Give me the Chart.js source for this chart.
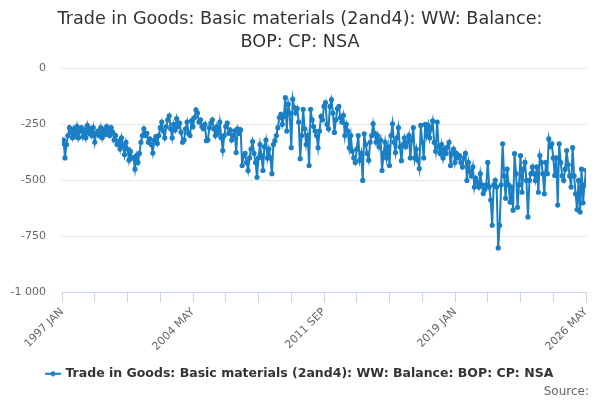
<!DOCTYPE html>
<html>
<head>
<meta charset="utf-8">
<script src="https://cdn.jsdelivr.net/npm/chart.js@4/dist/chart.umd.min.js"></script>
<style>
  body { margin: 0; background: #fff; }
  #wrap { width: 600px; height: 400px; position: relative; }
  #source {
    position: absolute; right: 11px; top: 384px;
    font: 12px "DejaVu Sans", sans-serif; color: #666;
  }
</style>
</head>
<body>
<div id="wrap">
  <canvas id="tradeChart" width="600" height="400"></canvas>
  <div id="source">Source:</div>
</div>
<script>
// Serie mensual, 1997 ENE a 2026 MAY
const startYear = 1997;
const monthNames = ["JAN", "FEB", "MAR", "APR", "MAY", "JUN", "JUL", "AUG", "SEP", "OCT", "NOV", "DEC"];
const seriesName = "Trade in Goods: Basic materials (2and4): WW: Balance: BOP: CP: NSA";

// Valores (millones), por año
const balance = [
  // 1997
  -335, -320, -400, -340, -300, -265, -285, -310, -270, -300, -260, -310,
  // 1998
  -280, -265, -305, -275, -310, -255, -290, -270, -300, -265, -330, -290,
  // 1999
  -280, -300, -265, -310, -275, -295, -260, -280, -300, -265, -285, -320,
  // 2000
  -300, -340, -325, -360, -310, -345, -385, -330, -360, -410, -370, -400,
  // 2001
  -400, -450, -390, -420, -380, -330, -300, -270, -300, -290, -330, -315,
  // 2002
  -340, -378, -320, -305, -335, -300, -265, -240, -280, -310, -260, -230,
  // 2003
  -212, -270, -310, -250, -275, -225, -260, -245, -285, -330, -320, -270,
  // 2004
  -240, -290, -300, -235, -260, -220, -185, -200, -240, -230, -260, -270,
  // 2005
  -250, -323, -320, -265, -245, -230, -270, -300, -260, -290, -240, -310,
  // 2006
  -367, -300, -260, -245, -290, -275, -320, -300, -280, -376, -270, -290,
  // 2007
  -275, -434, -390, -380, -420, -456, -400, -360, -327, -380, -420, -486,
  // 2008
  -400, -340, -390, -456, -350, -320, -400, -360, -400, -470, -340, -323,
  // 2009
  -300, -265, -220, -205, -250, -215, -131, -280, -160, -200, -354, -138,
  // 2010
  -175, -200, -180, -240, -403, -300, -183, -270, -340, -300, -434, -183,
  // 2011
  -230, -260, -280, -300, -354, -280, -215, -230, -170, -153, -250, -270,
  // 2012
  -170, -140, -200, -286, -230, -180, -170, -220, -240, -210, -300, -250,
  // 2013
  -280, -354, -300, -370, -400, -420, -360, -300, -410, -380, -500, -292,
  // 2014
  -340, -380, -410, -330, -300, -248, -290, -330, -300, -350, -320, -456,
  // 2015
  -380, -330, -400, -350, -434, -300, -248, -330, -376, -310, -265, -350,
  // 2016
  -412, -340, -310, -350, -330, -300, -400, -320, -265, -400, -360, -410,
  // 2017
  -447, -255, -330, -400, -250, -300, -255, -310, -270, -235, -330, -370,
  // 2018
  -240, -350, -380, -340, -400, -360, -380, -350, -330, -434, -380, -360,
  // 2019
  -420, -380, -400, -390, -420, -440, -400, -380, -500, -420, -460, -480,
  // 2020
  -440, -530, -490, -510, -530, -470, -520, -558, -540, -520, -420, -530,
  // 2021
  -588, -700, -520, -500, -530, -801, -700, -520, -337, -480, -580, -450,
  // 2022
  -520, -597, -530, -633, -381, -470, -620, -520, -390, -553, -450, -420,
  // 2023
  -500, -663, -500, -470, -440, -470, -500, -440, -553, -389, -420, -470,
  // 2024
  -560, -420, -470, -315, -350, -337, -400, -478, -400, -610, -337, -420,
  // 2025
  -480, -500, -450, -367, -430, -480, -530, -354, -480, -560, -630, -500,
  // 2026
  -641, -450, -600, -520, -455
];

// Etiquetas de meses
const labels = balance.map((v, i) => (startYear + Math.floor(i / 12)) + " " + monthNames[i % 12]);

const yTicks = [0, -250, -500, -750, -1000];
const lineColor = "#1a7fc4";

// Símbolo de la leyenda: línea con punto
const legendIcon = document.createElement("canvas");
legendIcon.width = 16;
legendIcon.height = 8;
const ic = legendIcon.getContext("2d");
ic.strokeStyle = lineColor;
ic.lineWidth = 2;
ic.beginPath(); ic.moveTo(0, 4); ic.lineTo(16, 4); ic.stroke();
ic.fillStyle = lineColor;
ic.beginPath(); ic.arc(8, 4, 2.5, 0, Math.PI * 2); ic.fill();

const ctx = document.getElementById("tradeChart").getContext("2d");
const tradeChart = new Chart(ctx, {
  type: "line",
  data: {
    datasets: [{
      label: seriesName,
      data: balance.map((v, i) => ({ x: i, y: v })),
      borderColor: lineColor,
      backgroundColor: lineColor,
      borderWidth: 2,
      pointRadius: 1.6,
      pointHoverRadius: 3,
      pointStyle: "circle",
      tension: 0,
      yAxisID: "y"
    }]
  },
  options: {
    responsive: false,
    animation: false,
    layout: { padding: { top: 6, right: 0, bottom: 10, left: 0 } },
    plugins: {
      title: {
        display: true,
        text: ["Trade in Goods: Basic materials (2and4): WW: Balance:", "BOP: CP: NSA"],
        color: "#333",
        font: { family: "DejaVu Sans", size: 17.6, weight: "normal", lineHeight: 1.3 },
        padding: { top: 2, bottom: 14.5 }
      },
      legend: {
        position: "bottom",
        labels: {
          color: "#333",
          font: { family: "DejaVu Sans", size: 12.5, weight: "bold" },
          usePointStyle: true,
          generateLabels: (chart) => [{
            text: seriesName,
            fillStyle: lineColor,
            strokeStyle: lineColor,
            fontColor: "#333",
            lineWidth: 0,
            pointStyle: legendIcon,
            datasetIndex: 0
          }],
          padding: 10
        }
      },
      tooltip: { enabled: false }
    },
    scales: {
      x: {
        type: "linear",
        min: 0,
        max: balance.length - 1,
        afterFit: (scale) => { scale.height = 65; },
        border: { display: true, color: "#ccd6eb", width: 1 },
        grid: { drawOnChartArea: false, drawTicks: true, tickLength: 10, tickColor: "#ccd6eb" },
        afterBuildTicks: (scale) => {
          const t = [];
          for (let i = 0; i < balance.length; i += 22) t.push({ value: i });
          scale.ticks = t;
        },
        ticks: {
          autoSkip: false,
          maxRotation: 45,
          minRotation: 45,
          color: "#666",
          font: { family: "DejaVu Sans", size: 11 },
          callback: (v) => (v % 88 === 0 ? labels[v] : "")
        }
      },
      y: {
        min: -1000,
        max: 0,
        afterFit: (scale) => { scale.width = 62; },
        afterBuildTicks: (scale) => { scale.ticks = yTicks.map(v => ({ value: v })); },
        border: { display: false },
        grid: { color: "#e6e6e6", drawTicks: false },
        ticks: {
          color: "#666",
          padding: 16,
          font: { family: "DejaVu Sans", size: 11 },
          callback: (v) => (v <= -1000 ? "-1 000" : String(v))
        }
      },
      // eje vacío a la derecha, solo para dejar margen
      yRight: {
        position: "right",
        min: 0,
        max: 1,
        afterFit: (scale) => { scale.width = 14; },
        border: { display: false },
        grid: { drawOnChartArea: false, drawTicks: false },
        ticks: { display: false }
      }
    }
  }
});
</script>
</body>
</html>
